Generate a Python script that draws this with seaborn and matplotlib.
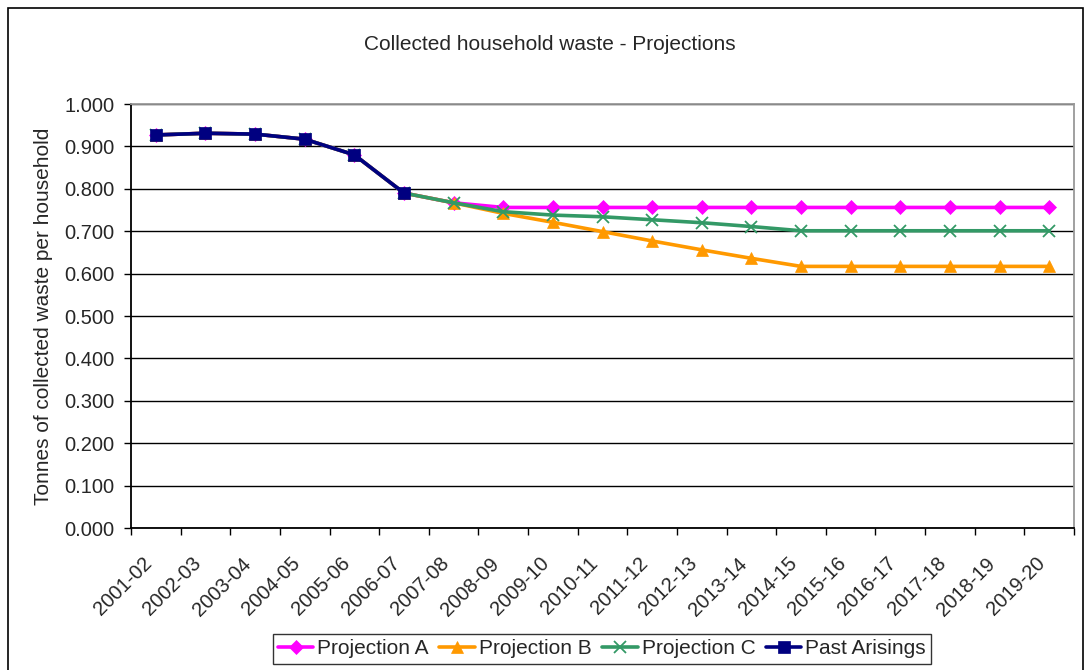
import numpy as np
import pandas as pd
import matplotlib
matplotlib.use("Agg")
import matplotlib.pyplot as plt
from matplotlib.patches import Rectangle
from matplotlib.ticker import FormatStrFormatter, FixedLocator
from matplotlib.transforms import ScaledTranslation
import seaborn as sns

# Financial years
years = ["2001-02", "2002-03", "2003-04", "2004-05", "2005-06", "2006-07",
         "2007-08", "2008-09", "2009-10", "2010-11", "2011-12", "2012-13",
         "2013-14", "2014-15", "2015-16", "2016-17", "2017-18", "2018-19",
         "2019-20"]

# Tonnes of collected waste per household
past_arisings = [0.927, 0.931, 0.929, 0.917, 0.880, 0.790]
projection_a = [0.927, 0.931, 0.929, 0.917, 0.880, 0.790,
                0.767, 0.756, 0.756, 0.756, 0.756, 0.756,
                0.756, 0.756, 0.756, 0.756, 0.756, 0.756, 0.756]
projection_b = [0.927, 0.931, 0.929, 0.917, 0.880, 0.790,
                0.767, 0.742, 0.721, 0.699, 0.677, 0.656,
                0.636, 0.617, 0.617, 0.617, 0.617, 0.617, 0.617]
projection_c = [0.927, 0.931, 0.929, 0.917, 0.880, 0.790,
                0.767, 0.746, 0.738, 0.734, 0.727, 0.720,
                0.711, 0.701, 0.701, 0.701, 0.701, 0.701, 0.701]

series_names = ["Projection A", "Projection B", "Projection C", "Past Arisings"]
series_values = [projection_a, projection_b, projection_c, past_arisings]
series_colors = ["#FF00FF", "#FF9900", "#339966", "#000080"]
series_markers = ["D", "^", "x", "s"]
series_msize = [7.5, 9, 9, 8]

sns.set_theme(style="white")
plt.rcParams["font.family"] = ["Liberation Sans", "DejaVu Sans"]

fig = plt.figure(figsize=(10.89, 6.70), dpi=100)
ax = fig.add_axes([131 / 1089, 1 - 528 / 670, 943 / 1089, 424 / 670])

for name, vals, col, mk, ms in zip(series_names, series_values, series_colors,
                                   series_markers, series_msize):
    df = pd.DataFrame({"pos": np.arange(len(vals)), "value": vals})
    sns.lineplot(data=df, x="pos", y="value", ax=ax, color=col, linewidth=2.6,
                 marker=mk, markersize=ms, markeredgecolor=col,
                 markerfacecolor=col, markeredgewidth=1.3 if mk == "x" else 0.5,
                 label=name)

ax.set_xlim(-0.5, len(years) - 0.5)
ax.set_ylim(0, 1.0)
ax.yaxis.set_major_locator(FixedLocator(np.arange(0, 1.001, 0.1)))
ax.yaxis.set_major_formatter(FormatStrFormatter("%.3f"))
ax.set_xticks(np.arange(len(years)))
ax.set_xticklabels(years, rotation=45, ha="right", rotation_mode="anchor")
ax.set_xticks(np.arange(-0.5, len(years)), minor=True)
ax.tick_params(axis="x", which="major", length=0, pad=10, labelsize=14.5)
ax.tick_params(axis="x", which="minor", length=5, width=1, direction="out",
               bottom=True, color="black")
ax.tick_params(axis="y", which="major", length=5, width=1, direction="out",
               left=True, color="black", labelsize=14.5, pad=7)

# year labels sit a little left of and below each category centre
shift = ScaledTranslation(-14 / 100, -12 / 100, fig.dpi_scale_trans)
for lbl in ax.get_xticklabels():
    lbl.set_transform(lbl.get_transform() + shift)

ax.grid(axis="y", color="black", linewidth=1)
ax.set_axisbelow(True)
for side in ["left", "bottom"]:
    ax.spines[side].set_color("black")
    ax.spines[side].set_linewidth(1.3)
for side in ["top", "right"]:
    ax.spines[side].set_color("#999999")
    ax.spines[side].set_linewidth(1.3)

ax.set_xlabel("")
ax.set_ylabel("Tonnes of collected waste per household", fontsize=15, labelpad=8)
fig.text(550 / 1089, 1 - 45 / 670, "Collected household waste - Projections",
         ha="center", va="center", fontsize=15)

ax.legend_.remove()
handles, labels = ax.get_legend_handles_labels()
leg = fig.legend(handles, labels, loc="center", bbox_to_anchor=(602 / 1089, 1 - 649 / 670),
                 ncol=4, fontsize=15, frameon=True, fancybox=False,
                 handlelength=1.7, handletextpad=0.2, columnspacing=0.5,
                 borderpad=0.25, borderaxespad=0)
leg.get_frame().set_edgecolor("black")
leg.get_frame().set_linewidth(1)

fig.patches.append(Rectangle((8 / 1089, -0.05), 1075 / 1089, 1 - 8 / 670 + 0.05,
                             transform=fig.transFigure, fill=False,
                             edgecolor="black", linewidth=1.2))

fig.savefig("out.png", dpi=100)
